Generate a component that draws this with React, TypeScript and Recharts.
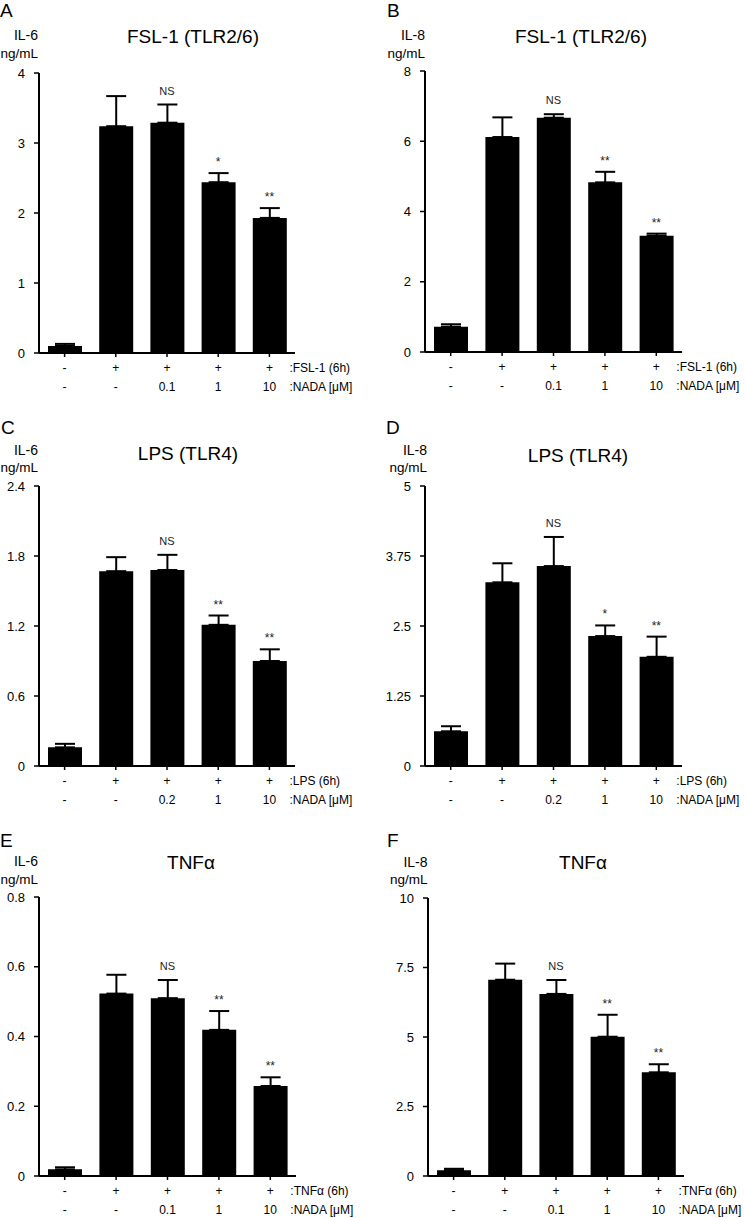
import React from 'react';
import { ComposedChart, Bar, Line, XAxis, YAxis, ErrorBar, LabelList } from 'recharts';

const FONT = '"Liberation Sans", Arial, Helvetica, sans-serif';

// ---- shared category rows ----
const categories = [0, 1, 2, 3, 4];
const stimulusRow = ['-', '+', '+', '+', '+'];
const nadaRowFSL = ['-', '-', '0.1', '1', '10'];
const nadaRowLPS = ['-', '-', '0.2', '1', '10'];
const nadaRowTNF = ['-', '-', '0.1', '1', '10'];

// ---- Panel A: IL-6, FSL-1 ----
const aValues = [0.1, 3.24, 3.29, 2.44, 1.93];
const aErrTop = [0.13, 3.67, 3.55, 2.57, 2.07];
const aSig = ['', '', 'NS', '*', '**'];
const aTicks = [0, 1, 2, 3, 4];

// ---- Panel B: IL-8, FSL-1 ----
const bValues = [0.72, 6.12, 6.67, 4.83, 3.31];
const bErrTop = [0.79, 6.68, 6.77, 5.13, 3.37];
const bSig = ['', '', 'NS', '**', '**'];
const bTicks = [0, 2, 4, 6, 8];

// ---- Panel C: IL-6, LPS ----
const cValues = [0.16, 1.67, 1.68, 1.21, 0.9];
const cErrTop = [0.19, 1.79, 1.81, 1.29, 1.0];
const cSig = ['', '', 'NS', '**', '**'];
const cTicks = [0, 0.6, 1.2, 1.8, 2.4];

// ---- Panel D: IL-8, LPS ----
const dValues = [0.62, 3.28, 3.57, 2.32, 1.95];
const dErrTop = [0.71, 3.62, 4.09, 2.51, 2.31];
const dSig = ['', '', 'NS', '*', '**'];
const dTicks = [0, 1.25, 2.5, 3.75, 5];

// ---- Panel E: IL-6, TNFα ----
const eValues = [0.019, 0.523, 0.51, 0.419, 0.258];
const eErrTop = [0.025, 0.577, 0.562, 0.473, 0.283];
const eSig = ['', '', 'NS', '**', '**'];
const eTicks = [0, 0.2, 0.4, 0.6, 0.8];

// ---- Panel F: IL-8, TNFα ----
const fValues = [0.21, 7.06, 6.55, 5.01, 3.73];
const fErrTop = [0.26, 7.64, 7.05, 5.8, 4.02];
const fSig = ['', '', 'NS', '**', '**'];
const fTicks = [0, 2.5, 5, 7.5, 10];

type PanelCfg = {
  letter: string;
  letterX: number;
  letterY: number;
  cytokine: string;
  title: string;
  titleX: number;
  titleY: number;
  unitRight: number;
  unitY1: number;
  unitY2: number;
  L: number;
  T: number;
  R: number;
  B: number;
  ticks: number[];
  stimLabel: string;
  nadaRow: string[];
  values: number[];
  errTop: number[];
  sig: string[];
};

const panels: PanelCfg[] = [
  { letter: 'A', letterX: 0, letterY: 17, cytokine: 'IL-6', title: 'FSL-1 (TLR2/6)', titleX: 193, titleY: 42.5, unitRight: 38, unitY1: 39.5, unitY2: 57.5, L: 39, T: 73, R: 295, B: 353, ticks: aTicks, stimLabel: 'FSL-1 (6h)', nadaRow: nadaRowFSL, values: aValues, errTop: aErrTop, sig: aSig },
  { letter: 'B', letterX: 387, letterY: 17, cytokine: 'IL-8', title: 'FSL-1 (TLR2/6)', titleX: 581, titleY: 43, unitRight: 425, unitY1: 39.5, unitY2: 57.5, L: 425, T: 71, R: 682, B: 352, ticks: bTicks, stimLabel: 'FSL-1 (6h)', nadaRow: nadaRowFSL, values: bValues, errTop: bErrTop, sig: bSig },
  { letter: 'C', letterX: 1, letterY: 434, cytokine: 'IL-6', title: 'LPS (TLR4)', titleX: 188, titleY: 460, unitRight: 38, unitY1: 455, unitY2: 471.5, L: 39, T: 486, R: 295, B: 766, ticks: cTicks, stimLabel: 'LPS (6h)', nadaRow: nadaRowLPS, values: cValues, errTop: cErrTop, sig: cSig },
  { letter: 'D', letterX: 386, letterY: 434, cytokine: 'IL-8', title: 'LPS (TLR4)', titleX: 578, titleY: 461.5, unitRight: 427, unitY1: 455, unitY2: 471.5, L: 425, T: 486, R: 682, B: 766, ticks: dTicks, stimLabel: 'LPS (6h)', nadaRow: nadaRowLPS, values: dValues, errTop: dErrTop, sig: dSig },
  { letter: 'E', letterX: 0, letterY: 847, cytokine: 'IL-6', title: 'TNFα', titleX: 191, titleY: 869, unitRight: 38, unitY1: 866, unitY2: 883.5, L: 39, T: 897, R: 296, B: 1176, ticks: eTicks, stimLabel: 'TNFα (6h)', nadaRow: nadaRowTNF, values: eValues, errTop: eErrTop, sig: eSig },
  { letter: 'F', letterX: 387, letterY: 847, cytokine: 'IL-8', title: 'TNFα', titleX: 583, titleY: 869, unitRight: 427.5, unitY1: 866.5, unitY2: 883.5, L: 428, T: 898, R: 684, B: 1176, ticks: fTicks, stimLabel: 'TNFα (6h)', nadaRow: nadaRowTNF, values: fValues, errTop: fErrTop, sig: fSig },
];

const Y_AXIS_W = 39;
const TOP_PAD = 10;
const RIGHT_PAD = 92;
const X_AXIS_H = 52;

const renderSig = (props: any) => {
  const { x, y, value } = props;
  if (!value) return null;
  const isNS = value === 'NS';
  return (
    <text
      x={x}
      y={isNS ? y - 10 : y - 7}
      textAnchor="middle"
      fontSize={isNS ? 11 : 12}
      fontFamily={FONT}
      fill="#222"
    >
      {value}
    </text>
  );
};

const makeTick = (p: PanelCfg) => (props: any) => {
  const { x, y, payload } = props;
  const idx = Number(payload.value);
  const common = { fontSize: 12, fontFamily: FONT, fill: '#000' };
  return (
    <g>
      <text x={x} y={y + 15} textAnchor="middle" {...common}>{stimulusRow[idx]}</text>
      <text x={x} y={y + 34} textAnchor="middle" {...common}>{p.nadaRow[idx]}</text>
      {idx === categories.length - 1 && (
        <g>
          <text x={x + 20} y={y + 15} textAnchor="start" {...common}>{':' + p.stimLabel}</text>
          <text x={x + 20} y={y + 34} textAnchor="start" {...common}>:NADA [μM]</text>
        </g>
      )}
    </g>
  );
};

const Panel = ({ p }: { p: PanelCfg }) => {
  const data = categories.map((c, i) => ({
    i: c,
    value: p.values[i],
    errTop: p.errTop[i],
    err: [0, p.errTop[i] - p.values[i]],
    sig: p.sig[i],
  }));
  const width = p.R - p.L + Y_AXIS_W + RIGHT_PAD;
  const height = p.B - p.T + TOP_PAD + X_AXIS_H;
  const max = p.ticks[p.ticks.length - 1];
  return (
    <div style={{ position: 'absolute', left: p.L - Y_AXIS_W, top: p.T - TOP_PAD, width, height }}>
      <ComposedChart
        width={width}
        height={height}
        data={data}
        margin={{ top: TOP_PAD, right: RIGHT_PAD, bottom: 0, left: 0 }}
      >
        <XAxis
          dataKey="i"
          type="category"
          height={X_AXIS_H}
          axisLine={{ stroke: '#000', strokeWidth: 2 }}
          tickLine={{ stroke: '#000', strokeWidth: 1.5 }}
          tickSize={4}
          tickMargin={0}
          interval={0}
          tick={makeTick(p)}
        />
        <YAxis
          type="number"
          width={Y_AXIS_W}
          domain={[0, max]}
          ticks={p.ticks}
          interval={0}
          allowDataOverflow
          axisLine={{ stroke: '#000', strokeWidth: 2 }}
          tickLine={{ stroke: '#000', strokeWidth: 1.5 }}
          tickSize={5}
          tickMargin={9}
          tick={{ fontSize: 13, fontFamily: FONT, fill: '#000' }}
          tickFormatter={(v: number) => String(v)}
        />
        <Bar dataKey="value" fill="#000" barSize={34} isAnimationActive={false}>
          <ErrorBar dataKey="err" width={10} stroke="#000" strokeWidth={2} direction="y" />
        </Bar>
        <Line
          dataKey="errTop"
          stroke="none"
          dot={false}
          activeDot={false}
          legendType="none"
          isAnimationActive={false}
        >
          <LabelList dataKey="sig" content={renderSig} />
        </Line>
      </ComposedChart>
    </div>
  );
};

export default function App() {
  return (
    <div style={{ position: 'absolute', left: 0, top: 0, width: 745, height: 1218, background: '#fff', fontFamily: FONT }}>
      {panels.map((p) => (
        <Panel key={p.letter} p={p} />
      ))}
      <svg
        width={745}
        height={1218}
        style={{ position: 'absolute', left: 0, top: 0, pointerEvents: 'none' }}
      >
        {panels.map((p) => (
          <g key={p.letter} fontFamily={FONT} fill="#000">
            <text x={p.letterX} y={p.letterY} fontSize={19}>{p.letter}</text>
            <text x={p.titleX} y={p.titleY} fontSize={19} textAnchor="middle">{p.title}</text>
            <text x={p.unitRight} y={p.unitY1} fontSize={14} textAnchor="end">{p.cytokine}</text>
            <text x={p.unitRight} y={p.unitY2} fontSize={13.5} textAnchor="end">ng/mL</text>
          </g>
        ))}
      </svg>
    </div>
  );
}
